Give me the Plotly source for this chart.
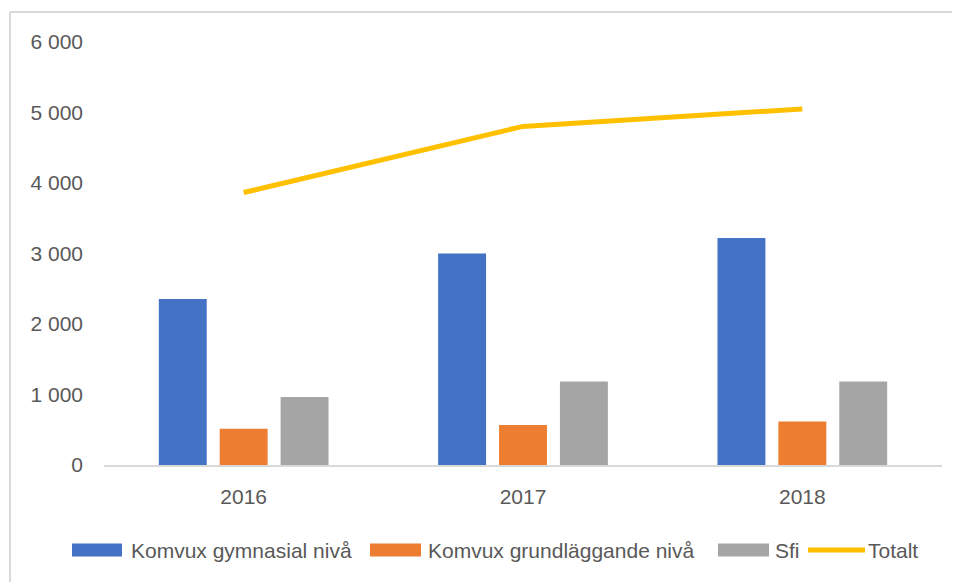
import plotly.graph_objects as go

years = ["2016", "2017", "2018"]
gymnasial = [2355, 3000, 3220]
grundlaggande = [515, 567, 618]
sfi = [965, 1186, 1186]
totalt = [3865, 4803, 5050]

names = ["Komvux gymnasial nivå", "Komvux grundläggande nivå", "Sfi", "Totalt"]
colors = ["#4472C4", "#ED7D31", "#A5A5A5", "#FFC000"]
font_family = "Liberation Sans, Arial, sans-serif"
text_color = "#595959"

# page offset of the figure inside the html body
OFF = 8
W, H = 960 - OFF, 582 - OFF
L, R, T, B = 104 - OFF, 18, 42 - OFF, 117
pw, ph = W - L - R, H - T - B


def px(x):  # page pixel x -> paper
    return (x - OFF - L) / pw


def py(y):  # page pixel y -> paper
    return (H - B - (y - OFF)) / ph


fig = go.Figure()
for name, vals, col in zip(names[:3], [gymnasial, grundlaggande, sfi], colors[:3]):
    fig.add_trace(go.Bar(x=years, y=vals, name=name, marker_color=col,
                         marker_line_width=0))
fig.add_trace(go.Scatter(x=years, y=totalt, name=names[3], mode="lines",
                         line=dict(color=colors[3], width=5)))

# Excel-style legend drawn below the plot
legend_swatch_x = [(72, 122), (370, 421), (718, 769), (808, 865)]
legend_text_x = [130, 427, 774, 867]
shapes = [
    dict(type="line", xref="paper", yref="paper",
         x0=px(10), x1=px(10), y0=py(12), y1=py(600),
         line=dict(color="#D9D9D9", width=2)),
    dict(type="line", xref="paper", yref="paper",
         x0=px(10), x1=px(970), y0=py(12), y1=py(12),
         line=dict(color="#D9D9D9", width=2)),
]
annotations = []
LY = 550
for i, (name, col) in enumerate(zip(names, colors)):
    x0, x1 = legend_swatch_x[i]
    if i < 3:
        shapes.append(dict(type="rect", xref="paper", yref="paper",
                           x0=px(x0), x1=px(x1), y0=py(LY + 6.5), y1=py(LY - 6.5),
                           fillcolor=col, line=dict(width=0)))
    else:
        shapes.append(dict(type="line", xref="paper", yref="paper",
                           x0=px(x0), x1=px(x1), y0=py(LY), y1=py(LY),
                           line=dict(color=col, width=5)))
    annotations.append(dict(text=name, xref="paper", yref="paper",
                            x=px(legend_text_x[i]), y=py(LY), xanchor="left",
                            yanchor="middle", showarrow=False, xshift=-1,
                            font=dict(size=21, color=text_color)))

fig.update_layout(
    width=W, height=H,
    margin=dict(l=L, r=R, t=T, b=B),
    paper_bgcolor="white", plot_bgcolor="white",
    font=dict(family=font_family, size=21, color=text_color),
    separators=", ",
    barmode="group", bargap=0.346, bargroupgap=0.213,
    showlegend=False,
    xaxis=dict(showgrid=False, showline=True, linecolor="#D9D9D9", linewidth=2,
               ticks="", ticklabelstandoff=12, tickfont=dict(size=21, color=text_color)),
    yaxis=dict(range=[0, 6000], dtick=1000, tickformat=",d", showgrid=False,
               zeroline=False, showline=False, ticks="", ticklabelstandoff=20,
               tickfont=dict(size=21, color=text_color)),
    shapes=shapes,
    annotations=annotations,
)

fig.write_html("out.html")
